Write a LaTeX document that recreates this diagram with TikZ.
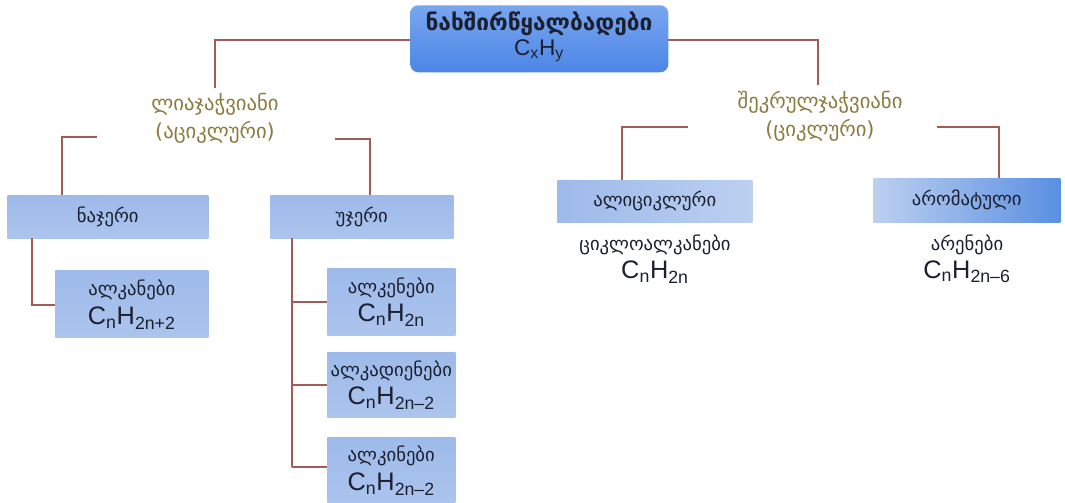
\documentclass[tikz,border=0pt]{standalone}
\usepackage{fontspec}
\setmainfont{DejaVu Sans}
\newfontfamily\formfont{Liberation Sans}
\usetikzlibrary{positioning}

\definecolor{linkred}{HTML}{A35A5A}
\definecolor{olive}{HTML}{8A7B3E}
\definecolor{topblue}{HTML}{4C86E6}
\definecolor{toplight}{HTML}{79A6F0}
\definecolor{boxblue}{HTML}{9DBAEA}
\definecolor{boxlight}{HTML}{BCD0F0}
\definecolor{deepblue}{HTML}{5A8FE2}
\definecolor{inkdark}{HTML}{1C1F2E}

\newcommand{\sub}[1]{\textsubscript{#1}}

\tikzset{
  link/.style={draw=linkred, line width=1pt},
  grouplabel/.style={text=olive, align=center, font=\fontsize{15.5}{21}\selectfont},
  classbox/.style={anchor=north west, inner sep=0pt, text=inkdark,
    top color=boxblue, bottom color=boxblue!85!white, draw=none},
  geo/.style={font=\fontsize{14}{16}\selectfont, text=inkdark, inner sep=0pt},
  formula/.style={font=\formfont\fontsize{19}{21}\selectfont, text=inkdark, inner sep=0pt},
}

\begin{document}
\begin{tikzpicture}[x=0.75pt, y=-0.75pt]
\useasboundingbox (0,0) rectangle (1065,503);
\fill[white] (0,0) rectangle (1065,503);

% root box
\node[anchor=north west, minimum width=258*0.75pt, minimum height=67*0.75pt,
      rounded corners=6pt, top color=toplight, bottom color=topblue,
      text=inkdark, inner sep=0pt] (root) at (410,5) {};
\node[font=\fontsize{17}{19}\selectfont\bfseries, text=inkdark, inner sep=0pt] (rootname) at (539,24) {ნახშირწყალბადები};
\node[font=\formfont\fontsize{17}{19}\selectfont, text=inkdark, inner sep=0pt] (rootform) at (539,51) {C\sub{x}H\sub{y}};

% main branches
\node[grouplabel] (acyc) at (215,118) {ლიაჯაჭვიანი\\(აციკლური)};
\node[grouplabel] (cyc) at (820,116) {შეკრულჯაჭვიანი\\(ციკლური)};

\coordinate (rootL) at (410,40);
\coordinate (rootR) at (668,40);
\draw[link] (rootL) -- (215,40) -- (215,88);
\draw[link] (rootR) -- (818,40) -- (818,85);

% acyclic: saturated / unsaturated
\node[classbox, minimum width=201*0.75pt, minimum height=43*0.75pt] (sat) at (7,195) {};
\node[geo] (satname) at (sat.center) {ნაჯერი};
\node[classbox, minimum width=183*0.75pt, minimum height=43*0.75pt] (unsat) at (270,195) {};
\node[geo] (unsatname) at (unsat.center) {უჯერი};

\coordinate (acycL) at (97,137);
\coordinate (acycR) at (335,139);
\draw[link] (acycL) -- (62,137) -- (62,195);
\draw[link] (acycR) -- (370,139) -- (370,195);

% cyclic: alicyclic / aromatic
\node[anchor=north west, inner sep=0pt, minimum width=195*0.75pt, minimum height=42*0.75pt,
      left color=boxblue, right color=boxlight] (alic) at (557,180) {};
\node[geo] (alicname) at (alic.center) {ალიციკლური};
\node[anchor=north west, inner sep=0pt, minimum width=187*0.75pt, minimum height=44*0.75pt,
      left color=boxlight, right color=deepblue] (arom) at (873,178) {};
\node[geo] (aromname) at (arom.center) {არომატული};

\coordinate (cycL) at (688,127);
\coordinate (cycR) at (937,127);
\draw[link] (cycL) -- (622,127) -- (622,180);
\draw[link] (cycR) -- (999,127) -- (999,178);

\node[geo] (cycloalk) at (655,245) {ციკლოალკანები};
\node[formula] (cycloform) at (655,272) {C\sub{n}H\sub{2n}};
\node[geo] (arenes) at (967,245) {არენები};
\node[formula] (areneform) at (967,272) {C\sub{n}H\sub{2n–6}};

% alkanes
\node[classbox, minimum width=153*0.75pt, minimum height=67*0.75pt] (alkanes) at (55,270) {};
\node[geo] (alkanesname) at ([yshift=-20*0.75pt]alkanes.north) {ალკანები};
\node[formula] (alkanesform) at ([yshift=-48*0.75pt]alkanes.north) {C\sub{n}H\sub{2n+2}};
\coordinate (satfoot) at (32,238);
\draw[link] (satfoot) -- (32,305) -- (alkanes.west |- 0,305);

% unsaturated members
\node[classbox, minimum width=128*0.75pt, minimum height=67*0.75pt] (alkenes) at (327,268) {};
\node[geo] (alkenesname) at ([yshift=-20*0.75pt]alkenes.north) {ალკენები};
\node[formula] (alkenesform) at ([yshift=-47*0.75pt]alkenes.north) {C\sub{n}H\sub{2n}};

\node[classbox, minimum width=128*0.75pt, minimum height=65*0.75pt] (dienes) at (327,352) {};
\node[geo] (dienesname) at ([yshift=-19*0.75pt]dienes.north) {ალკადიენები};
\node[formula] (dienesform) at ([yshift=-46*0.75pt]dienes.north) {C\sub{n}H\sub{2n–2}};

\node[classbox, minimum width=128*0.75pt, minimum height=66*0.75pt] (alkynes) at (327,437) {};
\node[geo] (alkynesname) at ([yshift=-19*0.75pt]alkynes.north) {ალკინები};
\node[formula] (alkynesform) at ([yshift=-47*0.75pt]alkynes.north) {C\sub{n}H\sub{2n–2}};

\coordinate (unsatfoot) at (292,238);
\draw[link] (unsatfoot) -- (292,467);
\draw[link] (292,302) -- (alkenes.west |- 0,302);
\draw[link] (292,385) -- (dienes.west |- 0,385);
\draw[link] (292,467) -- (alkynes.west |- 0,467);
\end{tikzpicture}
\end{document}
